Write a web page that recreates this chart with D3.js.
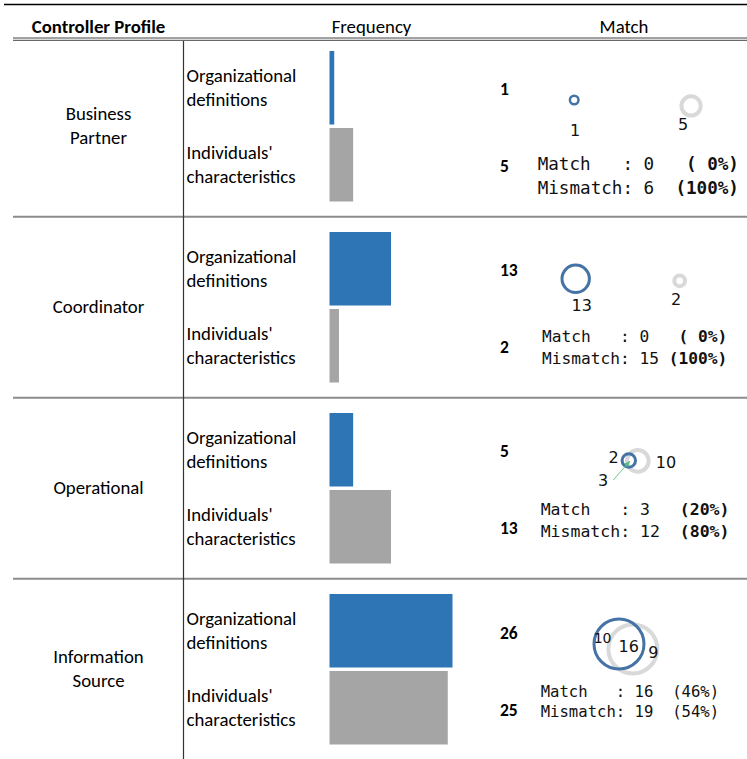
<!DOCTYPE html>
<html>
<head>
<meta charset="utf-8">
<script src="https://cdn.jsdelivr.net/npm/d3@7"></script>
<style>
  html, body { margin: 0; padding: 0; background: #fff; }
  svg { display: block; }
</style>
</head>
<body>
<div id="chart"></div>
<script>
// ---------------- DATA ----------------
const headers = ["Controller Profile", "Frequency", "Match"];
const profiles = ["Business Partner", "Coordinator", "Operational", "Information Source"];
const profileLines = [["Business", "Partner"], ["Coordinator"], ["Operational"], ["Information", "Source"]];
const subCategories = ["Organizational definitions", "Individuals' characteristics"];
const subCategoryLines = [["Organizational", "definitions"], ["Individuals'", "characteristics"]];
const orgCounts = [1, 13, 5, 26];
const indCounts = [5, 2, 13, 25];
const overlapCounts = [0, 0, 3, 16];
const matchCounts = [0, 0, 3, 16];
const mismatchCounts = [6, 15, 12, 19];
const matchPct = [0, 0, 20, 46];
const mismatchPct = [100, 100, 80, 54];

// ---------------- LAYOUT (positions / sizes / styles) ----------------
const W = 747, H = 759;
const FONT = "Carlito, Calibri, Lato, sans-serif";
const FS = 18.8;
const MONO = "'DejaVu Sans Mono', 'Liberation Mono', monospace";
const VENN_FONT = "'DejaVu Sans', sans-serif";
const BLUE = "#2e75b6", GRAY = "#a5a5a5";
const VENN_BLUE = "#4573a5", VENN_GRAY = "#d9d9d9";

// per-row venn / text layout
const rowLayout = [
  { cx: 574.2, cy: 65,   k: 4.3, angle: 2.9,  sep: 117, blueW: 2.5,
    labels: { a: ["A", 1, 30.5], b: ["B", -8, 19] },
    text: { x: 537.7, y1: 129, y2: 152.7, fs: 17.6, bold: true }, numDy: 1 },
  { cx: 575.7, cy: 62.8, k: 3.8, angle: 1.1,  sep: 104, blueW: 3,
    labels: { a: ["A", 6, 26.2], b: ["B", -3.5, 19] },
    text: { x: 542, y1: 120, y2: 141.7, fs: 16.2, bold: true }, numDy: 1.5 },
  { cx: 628.8, cy: 63.5, k: 3.0, angle: 2.4, blueW: 3,
    labels: { a: ["A", -15.3, -3.5], b: ["A", 37.2, 1.5], ab: ["A", -25.8, 19.5] },
    arrow: [[-15.5, 19.5], [1.2, 0.5]],
    text: { x: 540.7, y1: 112.3, y2: 134, fs: 16.5, bold: true }, numDy: 1.5 },
  { cx: 619, cy: 66, k: 4.9, angle: 19.5, blueW: 3,
    labels: { a: ["R", 0, 0, 14], b: ["R", 4, -2], ab: ["R", 2.5, 0] },
    text: { x: 540.7, y1: 114.3, y2: 133.7, fs: 15.6, bold: false }, numDy: 2 }
];

// ---------------- SVG ----------------
const svg = d3.select("#chart").append("svg")
  .attr("width", W).attr("height", H)
  .attr("viewBox", `0 0 ${W} ${H}`);

// Scales
const rowScale = d3.scaleBand().domain(profiles).range([35, 35 + 181 * profiles.length]).paddingInner(0);
const subScale = d3.scaleBand().domain(subCategories).range([16, 166.5]).paddingInner(0.0455);
const xScale = d3.scaleLinear().domain([0, 26]).range([329.5, 452.5]);

// ---- Table rules ----
svg.append("line").attr("x1", 4).attr("x2", W).attr("y1", 4.5).attr("y2", 4.5)
  .attr("stroke", "#000").attr("stroke-width", 1.6);
[38, 40.3].forEach(y => {
  svg.append("line").attr("x1", 13).attr("x2", W).attr("y1", y).attr("y2", y)
    .attr("stroke", "#444").attr("stroke-width", 1);
});
profiles.slice(1).forEach(p => {
  const y = rowScale(p) + 0.8;
  svg.append("line").attr("x1", 13).attr("x2", W).attr("y1", y).attr("y2", y)
    .attr("stroke", "#8c8c8c").attr("stroke-width", 2);
});
svg.append("line").attr("x1", 183.5).attr("x2", 183.5).attr("y1", 41).attr("y2", H)
  .attr("stroke", "#333").attr("stroke-width", 1.2);

// ---- Headers ----
const headerX = [98.5, 371.5, 624];
svg.selectAll("text.header").data(headers).join("text")
  .attr("class", "header")
  .attr("x", (d, i) => headerX[i]).attr("y", 26)
  .attr("text-anchor", "middle").attr("dominant-baseline", "central")
  .attr("font-family", FONT).attr("font-size", FS)
  .attr("font-weight", (d, i) => i === 0 ? "bold" : "normal")
  .attr("fill", "#000")
  .text(d => d);

// ---- Rows ----
profiles.forEach((p, i) => {
  const top = rowScale(p);
  const mid = top + rowScale.bandwidth() / 2;
  const g = svg.append("g");

  // profile label
  const lines = profileLines[i];
  lines.forEach((ln, j) => {
    g.append("text")
      .attr("x", 98.5).attr("y", mid + (j - (lines.length - 1) / 2) * 24)
      .attr("text-anchor", "middle").attr("dominant-baseline", "central")
      .attr("font-family", FONT).attr("font-size", FS).attr("fill", "#000")
      .text(ln);
  });

  // sub-category labels
  subCategories.forEach((s, si) => {
    const cy = top + subScale(s) + subScale.bandwidth() / 2;
    subCategoryLines[si].forEach((ln, j) => {
      g.append("text")
        .attr("x", 186.5).attr("y", cy + (j - 0.5) * 24)
        .attr("dominant-baseline", "central")
        .attr("font-family", FONT).attr("font-size", FS).attr("fill", "#000")
        .text(ln);
    });
  });

  // bars
  const vals = [orgCounts[i], indCounts[i]];
  g.selectAll("rect.bar").data(subCategories).join("rect")
    .attr("class", "bar")
    .attr("x", xScale(0))
    .attr("y", s => top + subScale(s))
    .attr("width", (s, si) => xScale(vals[si]) - xScale(0))
    .attr("height", subScale.bandwidth())
    .attr("fill", (s, si) => si === 0 ? BLUE : GRAY);

  // bold numbers
  const L = rowLayout[i];
  g.selectAll("text.num").data(subCategories).join("text")
    .attr("class", "num")
    .attr("x", 500)
    .attr("y", s => top + subScale(s) + subScale.bandwidth() / 2 + L.numDy)
    .attr("dominant-baseline", "central")
    .attr("font-family", FONT).attr("font-size", 17.5).attr("font-weight", "bold")
    .attr("fill", "#000")
    .text((s, si) => vals[si]);

  // ---- Venn ----
  const a = orgCounts[i], b = indCounts[i], ab = overlapCounts[i];
  const rScale = d3.scaleSqrt().domain([0, 1]).range([0, L.k]);
  const rA = rScale(a), rB = rScale(b);
  let d;
  if (ab === 0) {
    d = L.sep;
  } else {
    const target = Math.PI * L.k * L.k * ab;
    let lo = Math.abs(rA - rB), hi = rA + rB;
    for (let it = 0; it < 60; it++) {
      const m = (lo + hi) / 2;
      if (lens(rA, rB, m) > target) lo = m; else hi = m;
    }
    d = (lo + hi) / 2;
  }
  const th = L.angle * Math.PI / 180;
  const ux = Math.cos(th), uy = Math.sin(th);
  const A = [L.cx, top + L.cy];
  const B = [A[0] + d * ux, A[1] + d * uy];

  const vg = g.append("g");
  vg.append("circle").attr("cx", B[0]).attr("cy", B[1]).attr("r", rB)
    .attr("fill", "none").attr("stroke", VENN_GRAY).attr("stroke-width", 4);
  vg.append("circle").attr("cx", A[0]).attr("cy", A[1]).attr("r", rA)
    .attr("fill", "none").attr("stroke", VENN_BLUE).attr("stroke-width", L.blueW);

  // region centres along axis
  let tA, tB, tAB;
  if (ab === 0) { tA = 0; tB = d; tAB = d / 2; }
  else {
    tA = (-rA + (d - rB)) / 2;
    tAB = ((d - rB) + rA) / 2;
    tB = (rA + (d + rB)) / 2;
  }
  const regionPos = { a: tA, b: tB, ab: tAB };
  const regionVal = { a: a - ab, b: b - ab, ab: ab };
  Object.keys(L.labels).forEach(key => {
    const [ref, dx, dy, fs] = L.labels[key];
    let base;
    if (ref === "A") base = A;
    else if (ref === "B") base = B;
    else base = [A[0] + regionPos[key] * ux, A[1] + regionPos[key] * uy];
    vg.append("text")
      .attr("x", base[0] + dx).attr("y", base[1] + dy)
      .attr("text-anchor", "middle").attr("dominant-baseline", "central")
      .attr("font-family", VENN_FONT).attr("font-size", fs || 16)
      .attr("fill", "#111")
      .text(regionVal[key]);
  });
  if (L.arrow) {
    const [p0, p1] = L.arrow;
    const x0 = A[0] + p0[0], y0 = A[1] + p0[1], x1 = A[0] + p1[0], y1 = A[1] + p1[1];
    vg.append("line").attr("x1", x0).attr("y1", y0).attr("x2", x1).attr("y2", y1)
      .attr("stroke", "#6cc98c").attr("stroke-width", 1);
    const ang = Math.atan2(y1 - y0, x1 - x0);
    const hl = 6, hw = 2.5;
    const bx = x1 - hl * Math.cos(ang), by = y1 - hl * Math.sin(ang);
    vg.append("path")
      .attr("d", `M${x1},${y1} L${bx - hw * Math.sin(ang)},${by + hw * Math.cos(ang)} L${bx + hw * Math.sin(ang)},${by - hw * Math.cos(ang)} Z`)
      .attr("fill", "#4fbf77");
  }

  // ---- Match / Mismatch text ----
  const T = L.text;
  const rowsTxt = [
    ["Match   : " + matchCounts[i], "(" + String(matchPct[i]).padStart(2) + "%)"],
    ["Mismatch: " + mismatchCounts[i], "(" + String(mismatchPct[i]).padStart(2) + "%)"]
  ];
  rowsTxt.forEach(([left, right], j) => {
    const t = g.append("text")
      .attr("x", T.x).attr("y", top + (j === 0 ? T.y1 : T.y2))
      .attr("dominant-baseline", "central")
      .attr("font-family", MONO).attr("font-size", T.fs)
      .attr("fill", "#111")
      .style("white-space", "pre")
      .attr("xml:space", "preserve");
    t.append("tspan").text(left);
    t.append("tspan").attr("font-weight", T.bold ? "bold" : "normal")
      .text(right.padStart(19 - left.length));
  });
});

function lens(r1, r2, d) {
  if (d >= r1 + r2) return 0;
  if (d <= Math.abs(r1 - r2)) return Math.PI * Math.min(r1, r2) ** 2;
  const a1 = r1 * r1 * Math.acos((d * d + r1 * r1 - r2 * r2) / (2 * d * r1));
  const a2 = r2 * r2 * Math.acos((d * d + r2 * r2 - r1 * r1) / (2 * d * r2));
  const s = 0.5 * Math.sqrt((-d + r1 + r2) * (d + r1 - r2) * (d - r1 + r2) * (d + r1 + r2));
  return a1 + a2 - s;
}
</script>
</body>
</html>
